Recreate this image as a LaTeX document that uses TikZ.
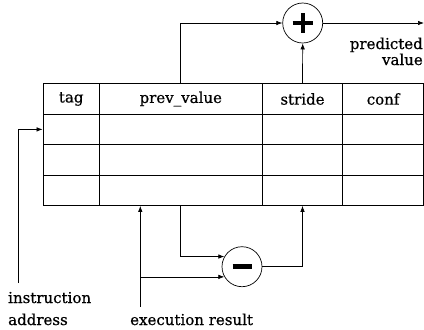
\documentclass[tikz,border=0pt]{standalone}
\usepackage{fontspec}
\setmainfont{DejaVu Serif}[FakeBold=0.6]
\usetikzlibrary{arrows.meta,positioning}

\begin{document}
\begin{tikzpicture}[x=1pt,y=-1pt,font=\fontsize{15}{18}\selectfont,>={Latex[length=6pt,width=4.5pt]}]
\useasboundingbox (0,0) rectangle (424,330);
% Styles: table cells, adder circles and wires
\tikzstyle{cell}=[draw,line width=0.9pt,inner sep=0,minimum height=30.4];
\tikzstyle{unit}=[circle,draw,line width=0.7pt,minimum size=40,inner sep=0];
\tikzstyle{wire}=[draw,line width=0.7pt,->];
% The table: header row and three entries
\foreach \name/\cx/\w/\txt in {tag/71.2/56.3/tag,prev/180.8/163/prev\_value,stride/302.5/80.4/stride,conf/383.1/80.8/conf}{
\node[cell,minimum width=\w](\name0)at(\cx,99){\txt};
\foreach \r/\cy in {1/129.4,2/159.8,3/190.2}
\node[cell,minimum width=\w](\name\r)at(\cx,\cy){};
}
% Adder and subtractor
\node[unit](plus)at(302.7,23){};
\draw[line width=4pt](plus.center)+(-10,0)--+(10,0)+(0,-10)--+(0,10);
\node[unit](minus)at(242,266.7){};
\draw[line width=5pt](minus.center)+(-9.5,0)--+(9.5,0);
% Free ends
\coordinate(out)at(424,23);
\coordinate(iaddr)at(18.3,283);
\coordinate(exec)at(140.3,306.7);
% Wires
\draw[wire](prev0.north)|-(plus);
\draw[wire](stride0.north)--(plus.south);
\draw[wire](plus.east)--(out);
\draw[wire](iaddr)|-(tag1.west);
\draw[wire](exec)--(exec|-prev3.south);
\draw[wire](exec|-minus.210)--(minus.210);
\draw[wire](prev3.south)|-(minus.150);
\draw[wire](minus.east)-|(stride3.south);
% Labels
\node[anchor=base east,inner sep=0](pred)at(423,49){predicted};
\node[anchor=base east,inner sep=0](val)at(423,65){value};
\node[anchor=base west,inner sep=0](instr)at(8,303){instruction};
\node[anchor=base west,inner sep=0](addr)at(8,325){address};
\node[anchor=base west,inner sep=0](res)at(130,325){execution result};
\end{tikzpicture}
\end{document}
